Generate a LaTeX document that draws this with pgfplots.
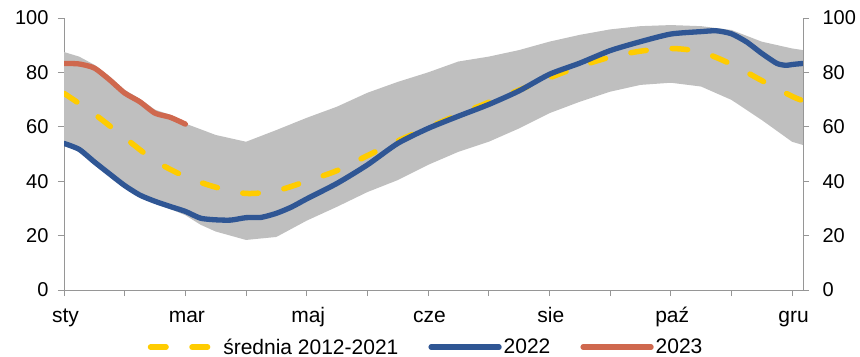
\documentclass[border=0pt]{standalone}
\usepackage{fontspec}
\setmainfont{Liberation Sans}
\usepackage{pgfplots}
\pgfplotsset{compat=1.18}
\usepgfplotslibrary{fillbetween}
\definecolor{bandgray}{RGB}{191,191,191}
\definecolor{myyellow}{RGB}{255,204,0}
\definecolor{myblue}{RGB}{47,86,148}
\definecolor{myred}{RGB}{207,104,78}
\definecolor{axisgray}{RGB}{150,150,150}
\begin{document}
\begin{tikzpicture}
\begin{axis}[
  at={(0,0)}, anchor=south west,
  scale only axis, width=739bp, height=272bp,
  xmin=0, xmax=12.18, ymin=0, ymax=100,
  axis x line*=bottom, axis y line*=left,
  axis line style={draw=axisgray, line width=0.8bp},
  major tick style={draw=axisgray, line width=0.8bp},
  tick align=outside, major tick length=6bp,
  ytick={0,20,...,100},
  xtick={0,1,...,12},
  xticklabels={sty,,mar,,maj,,cze,,sie,,paź,,gru},
  /pgf/number format/assume math mode=true,
  yticklabel style={font=\fontsize{20bp}{24bp}\selectfont, xshift=-6bp},
  xticklabel style={font=\fontsize{21bp}{25bp}\selectfont, anchor=north,
    text height=14bp, text depth=5bp, yshift=-9bp, xshift=1.5bp},
  legend columns=3,
  legend style={draw=none, fill=none, at={(0.49,-0.21)}, anchor=center,
    font=\fontsize{21bp}{25bp}\selectfont,
    /tikz/every even column/.append style={column sep=28bp}},
  legend image code/.code={\draw[#1] (0bp,0bp) -- (68bp,0bp);},
]
\addplot[name path=top, draw=none, forget plot] coordinates {
(0,87.5) (0.25,85.8) (0.5,82.8) (0.75,78.6) (1,73.6) (1.25,70.3) (1.5,66.3) (1.75,64.4) (2,61.2)
(2.5,57) (3,54.5) (3.5,58.8) (4,63.3) (4.5,67.4) (5,72.5) (5.5,76.5) (6,80) (6.5,84)
(7,85.8) (7.5,88.2) (8,91.3) (8.5,93.8) (9,95.8) (9.5,97) (10,97.4) (10.5,97) (11,95.6)
(11.5,91.3) (12,88.8) (12.18,88.2)};
\addplot[name path=bot, draw=none, forget plot] coordinates {
(0,53.4) (0.25,51.2) (0.5,46.6) (0.75,42.2) (1,37.9) (1.25,34.4) (1.5,32) (1.75,29.8) (2,27.5)
(2.25,24) (2.5,21.5) (3,18.4) (3.5,19.5) (4,25.5) (4.5,30.6) (5,36) (5.5,40.4) (6,46) (6.5,50.8)
(7,54.5) (7.5,59.4) (8,65) (8.5,69.2) (9,72.9) (9.5,75.4) (10,76.2) (10.5,74.8) (11,69.9)
(11.5,62.5) (12,54.5) (12.18,53.3)};
\addplot[bandgray, forget plot] fill between[of=top and bot];

\addplot[myyellow, line width=5.5bp, dash pattern=on 15.5bp off 26bp, line cap=round, smooth] coordinates {
(0,72.3) (0.5,64.7) (1,56) (1.5,47.5) (2,41.7) (2.5,37.8) (3,35.5) (3.5,36.5) (4,40)
(4.5,43.9) (5,49.4) (5.5,54.8) (6,59.7) (6.5,64.5) (7,69) (7.5,73.5) (8,78) (8.5,82.2)
(9,85.6) (9.5,87.8) (10,88.8) (10.5,87.5) (11,83) (11.5,77) (12,71.2) (12.18,69.6)};
\addlegendentry{średnia 2012-2021}

\addplot[myblue, line width=5.3bp, line cap=round, line join=round, smooth, tension=0.4] coordinates {
(0,53.9) (0.25,51.7) (0.5,47.1) (0.75,42.7) (1,38.4) (1.25,34.9) (1.5,32.6) (1.75,30.7) (2,28.9)
(2.25,26.4) (2.5,25.8) (2.75,25.7) (3,26.6) (3.25,26.7) (3.5,28.2) (3.75,30.5) (4,33.5)
(4.5,39.2) (5,46) (5.5,53.9) (6,59.4) (6.5,63.9) (7,68.2) (7.5,73.2) (8,79.3) (8.5,83.4)
(9,88) (9.5,91.3) (10,94.1) (10.5,95) (10.75,95.3) (11,94.2) (11.25,91.2) (11.5,87)
(11.75,83.3) (11.9,82.6) (12,82.9) (12.18,83.3)};
\addlegendentry{2022}

\addplot[myred, line width=5.3bp, line cap=round, line join=round, smooth, tension=0.4] coordinates {
(0,83.3) (0.25,83.1) (0.5,81.6) (0.75,77.3) (1,72.4) (1.25,69.2) (1.5,65) (1.75,63.5) (2,61)};
\addlegendentry{2023}
\end{axis}
\begin{axis}[
  at={(0,0)}, anchor=south west,
  scale only axis, width=739bp, height=272bp,
  xmin=0, xmax=12.18, ymin=0, ymax=100,
  axis x line=none, axis y line*=right,
  axis line style={draw=axisgray, line width=0.8bp},
  major tick style={draw=axisgray, line width=0.8bp},
  tick align=outside, major tick length=6bp,
  ytick={0,20,...,100},
  /pgf/number format/assume math mode=true,
  yticklabel style={font=\fontsize{20bp}{24bp}\selectfont, xshift=10bp},
]
\addplot[draw=none] coordinates {(0,0) (12.18,100)};
\end{axis}
\pgfresetboundingbox
\path[use as bounding box] (-64bp,-67bp) rectangle (796bp,290bp);
\end{tikzpicture}
\end{document}
